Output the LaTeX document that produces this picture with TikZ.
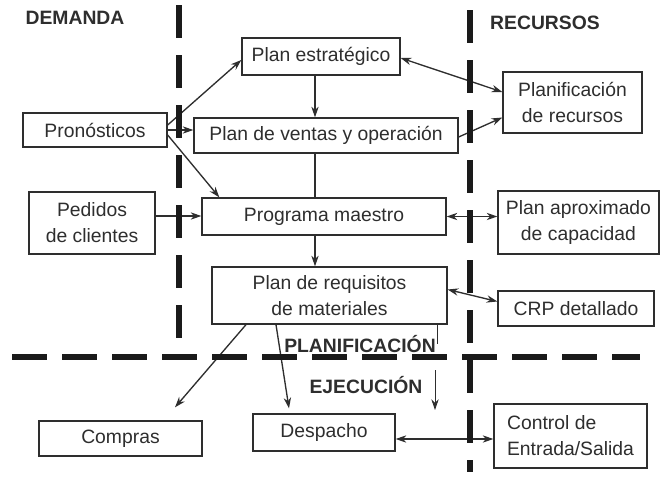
\documentclass[tikz,border=0pt]{standalone}
\usepackage{fontspec}
\setmainfont{Liberation Sans}
\usetikzlibrary{arrows.meta,calc}
\definecolor{ink}{HTML}{2E2E2E}
\definecolor{bar}{HTML}{1A1A1A}
\begin{document}
\begin{tikzpicture}[x=0.75pt,y=-0.75pt,
  font=\fontsize{14.5}{19.5}\selectfont, text=ink,
  box/.style={draw=ink,line width=1pt,fill=white,inner sep=0pt,align=center},
  conn/.style={draw=ink,line width=1pt},
  arr/.style={conn,-{Stealth[length=8pt,width=5.5pt]}},
  darr/.style={conn,{Stealth[length=8pt,width=5.5pt]}-{Stealth[length=8pt,width=5.5pt]}},
  vbar/.style={draw=bar,line width=4.5pt,dash pattern=on 24.75pt off 12.75pt},
  hbar/.style={draw=bar,line width=4.5pt,dash pattern=on 26.25pt off 11.25pt},
  lab/.style={font=\fontsize{14.5}{17}\selectfont\bfseries,anchor=base,inner sep=0pt}]
\useasboundingbox (0,0) rectangle (672,482);
\fill[white] (0,0) rectangle (672,482);

% boxes
\node[box,minimum width=118.5pt,minimum height=27.75pt] (estr) at (321,56.5) {Plan estratégico};
\node[box,minimum width=198pt,minimum height=26.25pt] (ventas) at (326,135.5) {Plan de ventas y operación};
\node[box,minimum width=108pt,minimum height=25.5pt] (pron) at (95,130) {Pronósticos};
\node[box,minimum width=94.5pt,minimum height=46.5pt] (ped) at (92,223) {Pedidos\\de clientes};
\node[box,minimum width=183pt,minimum height=27.75pt] (maestro) at (324,216.5) {Programa maestro};
\node[box,minimum width=104.25pt,minimum height=45.75pt] (rec) at (572.5,102.5) {Planificación\\de recursos};
\node[box,minimum width=120.75pt,minimum height=47.25pt] (aprox) at (578.5,222.5) {Plan aproximado\\de capacidad};
\node[box,minimum width=176.25pt,minimum height=42.75pt] (req) at (329.5,295.5) {Plan de requisitos\\de materiales};
\node[box,minimum width=117pt,minimum height=26.25pt] (crp) at (576,308.5) {CRP detallado};
\node[box,minimum width=122.25pt,minimum height=26.25pt] (comp) at (120.5,438.5) {Compras};
\node[box,minimum width=106.5pt,minimum height=27.75pt] (desp) at (324,432.5) {Despacho};
\node[box,minimum width=114.75pt,minimum height=48pt,align=left] (ctrl) at (570.5,436) {Control de\\Entrada/Salida};

% labels
\node[lab] (dem) at (75,24.5) {DEMANDA};
\node[lab] (recl) at (545,29.5) {RECURSOS};
\node[lab] (plan) at (360,352.5) {PLANIFICACIÓN};
\node[lab] (ejec) at (366,393) {EJECUCIÓN};

% connectors
\draw[arr] ($(pron.east)+(0,-5)$) -- ($(estr.west)+(0,3.5)$);
\draw[arr] (pron.east) -- (pron.east -| ventas.west);
\draw[arr] ($(pron.east)+(0,5)$) -- ($(maestro.north west)+(18,0)$);
\draw[arr] ($(estr.south)+(-6,0)$) -- ($(ventas.north)+(-11,0)$);
\draw[conn] ($(ventas.south)+(-11,0)$) -- ($(maestro.north)+(-9,0)$);
\draw[arr] ($(maestro.south)+(-9,0)$) -- ($(req.north)+(-14.5,0)$);
\draw[darr] ($(estr.east)+(0,1.5)$) -- ($(rec.west)+(0,-10.5)$);
\draw[arr] ($(ventas.east)+(0,1.5)$) -- ($(rec.west)+(0,15)$);
\draw[arr] ($(ped.east)+(0,-7)$) -- ($(ped.east -| maestro.west)+(0,-7)$);
\draw[darr] (maestro.east) -- (maestro.east -| aprox.west);
\draw[darr] ($(req.east)+(0,-6)$) -- ($(crp.west)+(0,-7)$);
\draw[arr] ($(req.south)+(-83.5,0)$) -- ($(comp.north)+(54.5,-13)$);
\draw[arr] ($(req.south)+(-53.5,0)$) -- ($(desp.north)+(-35,-5)$);
\draw[darr] ($(desp.east)+(0,6.5)$) -- ($(desp.east -| ctrl.west)+(0,6.5)$);
\coordinate (pe) at (437,344);
\draw[conn,line width=0.7pt] ($(req.south)+(107.5,0)$) -- (pe);
\coordinate (ea) at (435,370);
\coordinate (eb) at (435,410);
\draw[arr,line width=0.7pt] (ea) -- (eb);

% dashed division lines
\draw[vbar] (179,5) -- (179,339);
\draw[vbar] (470,10) -- (470,472);
\draw[hbar] (12,357) -- (640,357);
\end{tikzpicture}
\end{document}
